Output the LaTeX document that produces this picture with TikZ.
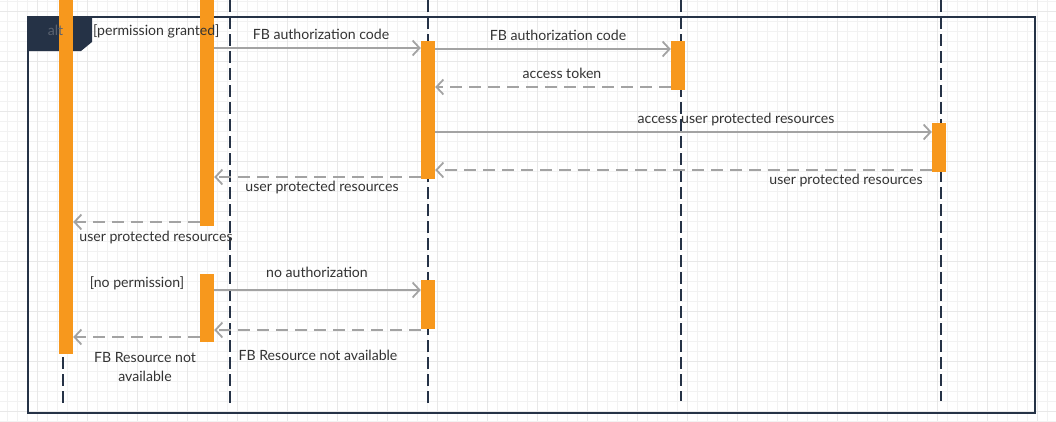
\documentclass[tikz,border=0pt]{standalone}
\usepackage{fontspec}
\setmainfont{Lato}
\usetikzlibrary{arrows.meta}

\definecolor{navy}{HTML}{253246}
\definecolor{actorange}{HTML}{F7981D}
\definecolor{msggray}{HTML}{A3A3A3}
\definecolor{txtgray}{HTML}{333333}
\definecolor{altgray}{HTML}{5A6270}

\begin{document}
\begin{tikzpicture}[x=1pt,y=-1pt,
    bar/.style={fill=actorange, draw=none, minimum width=14pt, inner sep=0pt},
    life/.style={navy, line width=2.2pt, dash pattern=on 12pt off 5pt},
    msg/.style={msggray, line width=1.8pt, -{Straight Barb[length=7pt,width=15pt]}},
    reply/.style={msg, dash pattern=on 12pt off 7pt},
    lbl/.style={text=txtgray, font=\fontsize{14.1}{19}\selectfont, inner sep=0pt, text height=10pt, text depth=3.5pt, yshift=-1.5pt},
    gridminor/.style={black!5, line width=0.6pt},
    gridmajor/.style={black!9, line width=0.6pt}]
                    \useasboundingbox (0,0) rectangle (1056,421);
                    % background grid
                    \foreach \gx in {7,17,...,1057} \draw[gridminor] (\gx,0) -- (\gx,421);
                    \foreach \gy in {1,11,...,421} \draw[gridminor] (0,\gy) -- (1056,\gy);
                    \foreach \gx in {37,87,...,1057} \draw[gridmajor] (\gx,0) -- (\gx,421);
                    \foreach \gy in {11,61,...,421} \draw[gridmajor] (0,\gy) -- (1056,\gy);
                    % alt fragment
                    \draw[navy, line width=2.5pt] (28,17) rectangle (1035,413);
                    \fill[navy] (28,17) -- (92,17) -- (92,42) -- (81,51) -- (28,51) -- cycle;
                    % lifelines
                    \coordinate (l1top) at (63,0);   \coordinate (l1bot) at (63,403);
                    \coordinate (l2top) at (230,0);  \coordinate (l2bot) at (230,406);
                    \coordinate (l3top) at (428,0);  \coordinate (l3bot) at (428,406);
                    \coordinate (l4top) at (681,0);  \coordinate (l4bot) at (681,401);
                    \coordinate (l5top) at (941,0);  \coordinate (l5bot) at (941,401);
                    \path[life]
                    (l1top) edge (l1bot)
                    (l2top) edge (l2bot)
                    (l3top) edge (l3bot)
                    (l4top) edge (l4bot)
                    (l5top) edge (l5bot);
                    % activations
                    \node[bar, minimum height=354pt] (a1) at (66,177) {};
                    \node[bar, minimum height=226pt] (a2) at (207,113) {};
                    \node[bar, minimum height=138pt] (a3) at (428,110) {};
                    \node[bar, minimum height=49pt] (a4) at (678,65.5) {};
                    \node[bar, minimum height=49pt] (a5) at (939,147.5) {};
                    \node[bar, minimum height=68pt] (a6) at (207,308) {};
                    \node[bar, minimum height=49pt] (a7) at (428,304.5) {};
                    % guards
                    \node[lbl, text=altgray] (altlbl) at (55.5,31) {alt};
                    \node[lbl, anchor=west] (guardyes) at (93,31) {[permission granted]};
                    \node[lbl] (guardno) at (137,283) {[no permission]};
                    % messages
                    \draw[msg] (a2.east |- 0,48) -- (a3.west |- 0,48);
                    \draw[msg] (a3.east |- 0,49) -- (a4.west |- 0,49);
                    \draw[reply] (a4.west |- 0,87) -- (a3.east |- 0,87);
                    \draw[msg] (a3.east |- 0,132) -- (a5.west |- 0,132);
                    \draw[reply] (a5.west |- 0,170) -- (a3.east |- 0,170);
                    \draw[reply] (a3.west |- 0,177) -- (a2.east |- 0,177);
                    \draw[reply] (a2.west |- 0,222) -- (a1.east |- 0,222);
                    \draw[msg] (a6.east |- 0,290) -- (a7.west |- 0,290);
                    \draw[reply] (a7.west |- 0,330) -- (a6.east |- 0,330);
                    \draw[reply] (a6.west |- 0,337) -- (a1.east |- 0,337);
                    % message labels
                    \node[lbl] (m1) at (321,35) {FB authorization code};
                    \node[lbl] (m2) at (558,36) {FB authorization code};
                    \node[lbl] (m3) at (562,74) {access token};
                    \node[lbl] (m4) at (736,119) {access user protected resources};
                    \node[lbl] (m5) at (846,180) {user protected resources};
                    \node[lbl] (m6) at (322,187) {user protected resources};
                    \node[lbl] (m7) at (156,237) {user protected resources};
                    \node[lbl] (m8) at (317,273) {no authorization};
                    \node[lbl] (m9) at (318,356) {FB Resource not available};
                    \node[lbl, align=center, anchor=base, yshift=1.5pt] (m10) at (145,381) {FB Resource not\\available};
                    \end{tikzpicture}
\end{document}
